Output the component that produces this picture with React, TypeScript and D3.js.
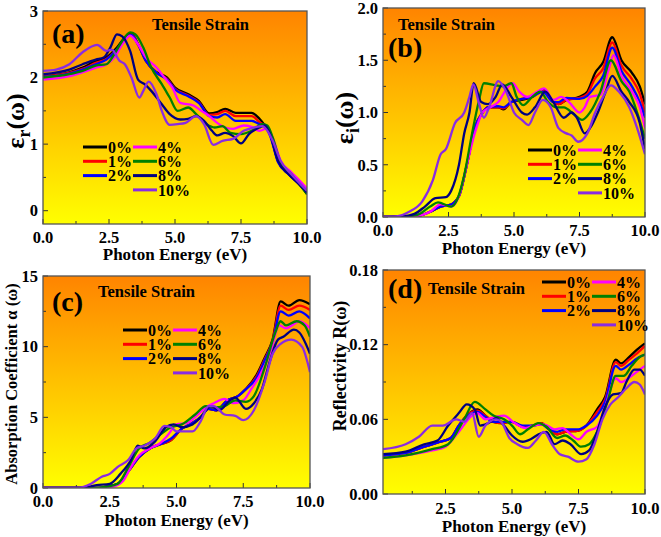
import React from "react";
import * as d3 from "d3";

type Pt = [number, number];

const strainLabels = ["0%", "1%", "2%", "4%", "6%", "8%", "10%"];
const strainColors = ["#000000", "#ff0000", "#0000ff", "#ff00ff", "#008000", "#000080", "#8a2be2"];

const xTicksFull = [0, 2.5, 5, 7.5, 10];
const xTicksD = [2.5, 5, 7.5, 10];
const xMinor = [1.25, 3.75, 6.25, 8.75];

// Panel (a) real part of dielectric function
const a0: Pt[] = [[0,2.02],[1,2.08],[1.5,2.15],[2,2.25],[2.4,2.3],[2.8,2.45],[3.1,2.6],[3.35,2.66],[3.6,2.5],[3.9,2.25],[4.3,2.08],[4.7,2.0],[5.0,1.85],[5.5,1.75],[5.9,1.65],[6.3,1.46],[6.6,1.48],[6.9,1.53],[7.3,1.47],[7.9,1.47],[8.2,1.38],[8.4,1.28],[8.6,1.15],[8.9,0.75],[9.3,0.55],[9.7,0.4],[10,0.25]];
const a1: Pt[] = [[0,2.02],[1,2.07],[1.5,2.13],[2,2.22],[2.4,2.28],[2.8,2.42],[3.1,2.58],[3.35,2.65],[3.6,2.5],[3.9,2.25],[4.3,2.07],[4.7,1.98],[5.0,1.83],[5.5,1.73],[5.9,1.63],[6.3,1.44],[6.6,1.45],[6.9,1.5],[7.3,1.42],[7.9,1.42],[8.2,1.33],[8.4,1.27],[8.6,1.15],[8.9,0.74],[9.3,0.55],[9.7,0.4],[10,0.27]];
const a2: Pt[] = [[0,2.01],[1,2.06],[1.5,2.12],[2,2.2],[2.4,2.27],[2.8,2.42],[3.1,2.58],[3.35,2.64],[3.6,2.5],[3.9,2.25],[4.3,2.07],[4.7,1.97],[5.0,1.82],[5.5,1.72],[5.9,1.62],[6.3,1.42],[6.6,1.4],[6.9,1.45],[7.3,1.35],[7.9,1.35],[8.2,1.3],[8.4,1.27],[8.6,1.13],[8.9,0.73],[9.3,0.55],[9.7,0.4],[10,0.28]];
const a4: Pt[] = [[0,1.97],[1,2.02],[1.5,2.08],[2,2.15],[2.4,2.2],[2.7,2.3],[3.0,2.5],[3.3,2.63],[3.6,2.5],[3.9,2.3],[4.3,2.15],[4.6,2.0],[4.9,1.85],[5.2,1.62],[5.7,1.58],[6.0,1.5],[6.3,1.42],[6.6,1.32],[6.9,1.25],[7.2,1.23],[7.6,1.28],[7.9,1.26],[8.2,1.2],[8.5,1.24],[8.7,1.1],[9.0,0.75],[9.4,0.58],[9.8,0.42],[10,0.33]];
const a6: Pt[] = [[0,2.0],[1,2.05],[1.5,2.1],[2,2.18],[2.4,2.2],[2.7,2.35],[3.0,2.55],[3.3,2.68],[3.5,2.65],[3.8,2.45],[4.1,2.15],[4.5,1.9],[4.8,1.7],[5.1,1.5],[5.5,1.55],[5.8,1.45],[6.2,1.3],[6.5,1.25],[6.8,1.27],[7.1,1.17],[7.5,1.15],[7.9,1.2],[8.3,1.3],[8.5,1.28],[8.7,1.1],[9.0,0.72],[9.4,0.55],[9.8,0.35],[10,0.25]];
const a8: Pt[] = [[0,2.05],[1,2.12],[1.5,2.2],[2,2.27],[2.3,2.3],[2.55,2.45],[2.8,2.65],[3.0,2.62],[3.3,2.4],[3.6,1.97],[3.85,1.9],[4.1,1.8],[4.5,1.6],[4.8,1.45],[5.2,1.37],[5.5,1.38],[5.8,1.42],[6.1,1.35],[6.4,1.2],[6.6,1.13],[6.9,1.17],[7.2,1.12],[7.5,1.01],[7.8,1.15],[8.2,1.25],[8.4,1.28],[8.6,1.15],[8.9,0.75],[9.3,0.55],[9.7,0.4],[10,0.27]];
const a10: Pt[] = [[0,2.1],[0.5,2.12],[1,2.2],[1.5,2.38],[2.05,2.49],[2.4,2.4],[2.6,2.42],[2.9,2.25],[3.1,2.2],[3.35,2.0],[3.65,1.7],[3.8,1.8],[4.0,1.94],[4.3,1.75],[4.5,1.5],[4.8,1.29],[5.1,1.3],[5.4,1.32],[5.8,1.42],[6.1,1.3],[6.45,0.99],[6.8,1.05],[7.2,1.08],[7.6,1.2],[8.0,1.25],[8.3,1.27],[8.5,1.2],[8.7,1.05],[9.0,0.75],[9.4,0.55],[9.8,0.38],[10,0.3]];

// Panel (b) imaginary part
const b0: Pt[] = [[0,0],[1.0,0.005],[1.5,0.02],[1.8,0.05],[2.2,0.1],[2.6,0.12],[2.9,0.2],[3.2,0.5],[3.5,0.85],[3.8,1.0],[4.0,1.05],[4.4,1.05],[4.6,1.03],[4.9,1.1],[5.3,1.12],[5.7,1.15],[6.1,1.22],[6.5,1.1],[6.7,1.08],[7.0,1.12],[7.5,1.15],[7.8,1.2],[8.1,1.38],[8.4,1.48],[8.75,1.72],[9.1,1.5],[9.5,1.38],[9.8,1.25],[10,1.08]];
const b1: Pt[] = [[0,0],[1.0,0.005],[1.5,0.02],[1.8,0.05],[2.2,0.1],[2.6,0.12],[2.9,0.2],[3.2,0.5],[3.5,0.85],[3.8,1.0],[4.0,1.05],[4.4,1.05],[4.6,1.04],[4.9,1.1],[5.3,1.13],[5.7,1.15],[6.1,1.21],[6.5,1.1],[6.7,1.08],[7.0,1.12],[7.5,1.14],[7.8,1.18],[8.1,1.33],[8.4,1.42],[8.75,1.67],[9.1,1.45],[9.5,1.32],[9.8,1.18],[10,1.0]];
const b2: Pt[] = [[0,0],[1.0,0.005],[1.5,0.02],[1.8,0.05],[2.2,0.1],[2.6,0.12],[2.9,0.2],[3.2,0.5],[3.5,0.85],[3.8,1.0],[4.0,1.05],[4.4,1.06],[4.6,1.05],[4.9,1.1],[5.3,1.13],[5.7,1.15],[6.1,1.2],[6.5,1.1],[6.7,1.1],[7.0,1.14],[7.5,1.13],[7.8,1.16],[8.1,1.25],[8.4,1.35],[8.75,1.62],[9.1,1.4],[9.5,1.25],[9.8,1.1],[10,0.95]];
const b4: Pt[] = [[0,0],[1.0,0.005],[1.5,0.02],[1.8,0.05],[2.2,0.12],[2.6,0.1],[2.9,0.2],[3.2,0.5],[3.5,0.8],[3.8,1.0],[4.1,1.05],[4.4,1.1],[4.7,1.22],[4.95,1.28],[5.2,1.2],[5.5,1.15],[5.9,1.2],[6.15,1.23],[6.5,1.12],[6.8,1.15],[7.1,1.1],[7.5,1.0],[7.7,1.05],[7.9,1.15],[8.3,1.17],[8.6,1.4],[8.8,1.55],[9.1,1.35],[9.5,1.2],[9.8,1.05],[10,0.85]];
const b6: Pt[] = [[0,0],[0.8,0.005],[1.3,0.02],[1.8,0.1],[2.1,0.14],[2.6,0.1],[2.8,0.15],[3.1,0.4],[3.4,0.8],[3.65,1.1],[3.85,1.28],[4.3,1.26],[4.6,1.25],[4.9,1.28],[5.1,1.15],[5.35,1.07],[5.7,1.15],[6.0,1.2],[6.3,1.1],[6.6,1.05],[6.9,1.05],[7.3,0.98],[7.6,0.93],[7.9,1.0],[8.3,1.2],[8.7,1.5],[9.1,1.3],[9.4,1.2],[9.7,1.0],[10,0.75]];
const b8: Pt[] = [[0,0],[0.7,0.005],[1.2,0.03],[1.6,0.1],[2.0,0.18],[2.4,0.19],[2.6,0.25],[2.9,0.5],[3.1,0.8],[3.3,1.0],[3.46,1.28],[3.75,1.1],[4.0,1.08],[4.3,1.15],[4.55,1.27],[4.9,1.15],[5.3,1.0],[5.5,0.98],[5.8,1.05],[6.2,1.2],[6.5,1.1],[6.9,0.95],[7.2,1.0],[7.4,0.95],[7.7,0.8],[7.9,0.85],[8.2,1.0],[8.5,1.2],[8.75,1.35],[9.1,1.2],[9.4,1.1],[9.8,0.9],[10,0.65]];
const b10: Pt[] = [[0,0],[0.5,0.005],[1.0,0.05],[1.5,0.15],[1.9,0.35],[2.2,0.6],[2.4,0.65],[2.75,0.9],[3.1,1.0],[3.3,1.15],[3.45,1.27],[3.65,1.1],[3.85,0.95],[4.05,1.05],[4.4,1.3],[4.7,1.2],[5.0,1.0],[5.3,0.93],[5.55,0.88],[5.8,1.0],[6.1,1.12],[6.4,1.05],[6.7,0.85],[7.0,0.8],[7.2,0.78],[7.45,0.72],[7.8,0.8],[8.1,1.0],[8.4,1.15],[8.7,1.26],[9.0,1.2],[9.4,1.05],[9.7,0.85],[10,0.6]];

// Panel (c) absorption coefficient
const c0: Pt[] = [[0,0],[2.0,0],[2.4,0.1],[2.8,0.3],[3.2,1.2],[3.6,2.2],[4.0,2.8],[4.4,3.1],[4.8,3.4],[5.2,4.2],[5.5,4.5],[5.9,5.0],[6.2,5.6],[6.5,5.5],[6.9,6.2],[7.3,6.5],[7.6,7.0],[8.0,8.0],[8.3,9.2],[8.6,10.5],[8.9,13.2],[9.2,12.9],[9.6,13.3],[10,13.0]];
const c1: Pt[] = [[0,0],[2.0,0],[2.4,0.1],[2.8,0.3],[3.2,1.2],[3.6,2.2],[4.0,2.8],[4.4,3.1],[4.8,3.4],[5.2,4.2],[5.5,4.5],[5.9,5.0],[6.2,5.6],[6.5,5.5],[6.9,6.2],[7.3,6.5],[7.6,7.0],[8.0,7.9],[8.3,9.1],[8.6,10.4],[8.9,12.9],[9.2,12.6],[9.6,12.9],[10,12.6]];
const c2: Pt[] = [[0,0],[2.0,0],[2.4,0.1],[2.8,0.3],[3.2,1.2],[3.6,2.2],[4.0,2.8],[4.4,3.1],[4.8,3.5],[5.2,4.2],[5.5,4.5],[5.9,5.0],[6.2,5.6],[6.5,5.5],[6.9,6.2],[7.3,6.5],[7.6,7.0],[8.0,7.8],[8.3,9.0],[8.6,10.3],[8.9,12.5],[9.2,12.2],[9.6,12.5],[10,12.0]];
const c4: Pt[] = [[0,0],[2.0,0],[2.6,0.1],[3.0,0.5],[3.3,1.5],[3.6,2.3],[4.0,2.8],[4.4,3.2],[4.7,3.8],[5.0,4.5],[5.4,4.6],[5.8,5.2],[6.1,5.7],[6.4,6.0],[6.8,6.3],[7.1,6.0],[7.5,6.2],[7.8,7.0],[8.1,7.9],[8.5,9.5],[8.85,11.5],[9.1,11.3],[9.4,11.6],[9.6,11.8],[10,11.3]];
const c6: Pt[] = [[0,0],[1.8,0],[2.4,0.1],[2.8,0.3],[3.2,1.5],[3.6,2.8],[4.0,3.2],[4.4,3.8],[4.8,4.3],[5.2,4.5],[5.7,5.2],[6.1,5.8],[6.4,5.7],[6.8,5.8],[7.2,6.2],[7.6,6.1],[7.9,6.5],[8.3,8.5],[8.7,11.0],[8.9,11.8],[9.1,11.5],[9.5,11.8],[9.8,11.5],[10,10.7]];
const c8: Pt[] = [[0,0],[1.5,0],[2.0,0.2],[2.5,0.3],[2.9,1.0],[3.3,2.0],[3.55,3.0],[3.8,2.8],[4.2,3.3],[4.6,4.3],[4.9,4.5],[5.2,4.3],[5.6,4.5],[5.9,5.0],[6.3,5.8],[6.6,5.5],[7.0,6.2],[7.2,6.4],[7.6,5.6],[7.9,6.0],[8.2,7.0],[8.5,9.0],[8.8,10.5],[9.0,10.7],[9.4,11.2],[9.6,11.0],[10,9.5]];
const c10: Pt[] = [[0,0],[1.3,0],[1.8,0.3],[2.2,0.8],[2.5,1.0],[2.8,1.5],[3.2,2.0],[3.5,2.8],[3.8,3.0],[4.2,3.5],[4.55,4.4],[4.8,4.3],[5.0,4.0],[5.4,4.0],[5.6,4.0],[5.9,4.7],[6.2,5.8],[6.4,5.8],[6.8,5.2],[7.2,5.1],[7.5,4.8],[7.9,5.5],[8.3,7.5],[8.6,9.5],[8.9,10.2],[9.3,10.5],[9.7,10.0],[10,8.2]];

// Panel (d) reflectivity
const d0: Pt[] = [[0.15,0.031],[1,0.033],[1.7,0.038],[2.3,0.042],[2.7,0.045],[3.0,0.055],[3.4,0.065],[3.7,0.068],[4.0,0.063],[4.3,0.058],[4.6,0.057],[5.0,0.058],[5.4,0.054],[5.8,0.055],[6.1,0.057],[6.4,0.052],[6.7,0.048],[7.0,0.05],[7.5,0.051],[7.8,0.055],[8.2,0.068],[8.5,0.078],[8.9,0.108],[9.1,0.105],[9.4,0.11],[9.7,0.116],[10,0.121]];
const d1: Pt[] = [[0.15,0.031],[1,0.033],[1.7,0.038],[2.3,0.042],[2.7,0.045],[3.0,0.055],[3.4,0.065],[3.7,0.067],[4.0,0.063],[4.3,0.058],[4.6,0.057],[5.0,0.058],[5.4,0.054],[5.8,0.055],[6.1,0.057],[6.4,0.052],[6.7,0.048],[7.0,0.05],[7.5,0.051],[7.8,0.055],[8.2,0.066],[8.5,0.076],[8.9,0.106],[9.1,0.103],[9.4,0.108],[9.7,0.113],[10,0.119]];
const d2: Pt[] = [[0.15,0.031],[1,0.033],[1.7,0.038],[2.3,0.042],[2.7,0.045],[3.0,0.055],[3.4,0.064],[3.7,0.066],[4.0,0.062],[4.3,0.058],[4.6,0.058],[5.0,0.058],[5.4,0.055],[5.8,0.055],[6.1,0.056],[6.4,0.052],[6.7,0.05],[7.0,0.052],[7.5,0.052],[7.8,0.055],[8.2,0.063],[8.5,0.074],[8.9,0.103],[9.1,0.1],[9.4,0.104],[9.7,0.109],[10,0.112]];
const d4: Pt[] = [[0.15,0.029],[1,0.031],[2.0,0.035],[2.5,0.038],[3.0,0.05],[3.5,0.063],[3.7,0.065],[4.0,0.06],[4.4,0.062],[4.7,0.063],[5.1,0.057],[5.5,0.053],[5.8,0.055],[6.2,0.056],[6.6,0.052],[6.9,0.053],[7.2,0.048],[7.5,0.044],[7.8,0.05],[8.2,0.054],[8.5,0.07],[8.9,0.093],[9.1,0.09],[9.5,0.095],[9.8,0.1],[10,0.103]];
const d6: Pt[] = [[0.15,0.029],[1,0.031],[2.0,0.036],[2.6,0.04],[3.2,0.06],[3.6,0.074],[4.0,0.068],[4.3,0.063],[4.7,0.06],[5.0,0.055],[5.3,0.048],[5.6,0.052],[6.0,0.057],[6.3,0.054],[6.7,0.045],[7.0,0.047],[7.3,0.043],[7.6,0.038],[7.9,0.04],[8.2,0.05],[8.6,0.075],[8.9,0.095],[9.2,0.095],[9.5,0.103],[9.8,0.11],[10,0.112]];
const d8: Pt[] = [[0.15,0.032],[1,0.034],[1.7,0.04],[2.2,0.043],[2.6,0.055],[3.0,0.065],[3.3,0.072],[3.6,0.068],[3.8,0.055],[4.2,0.058],[4.4,0.061],[4.7,0.055],[5.0,0.047],[5.4,0.042],[5.7,0.044],[6.0,0.048],[6.3,0.05],[6.6,0.04],[6.9,0.043],[7.2,0.04],[7.6,0.032],[7.9,0.035],[8.2,0.05],[8.5,0.07],[8.8,0.08],[9.1,0.081],[9.3,0.09],[9.6,0.1],[9.8,0.1],[10,0.095]];
const d10: Pt[] = [[0.15,0.036],[1,0.04],[1.5,0.046],[2.0,0.055],[2.4,0.055],[2.9,0.06],[3.2,0.058],[3.5,0.065],[3.75,0.046],[4.0,0.055],[4.4,0.06],[4.6,0.058],[4.9,0.045],[5.2,0.04],[5.6,0.037],[5.9,0.043],[6.2,0.05],[6.5,0.04],[6.8,0.032],[7.1,0.03],[7.5,0.026],[7.8,0.028],[8.1,0.04],[8.4,0.06],[8.7,0.072],[9.0,0.078],[9.3,0.085],[9.6,0.09],[9.8,0.088],[10,0.08]];

const seriesA = [a0, a1, a2, a4, a6, a8, a10];
const seriesB = [b0, b1, b2, b4, b6, b8, b10];
const seriesC = [c0, c1, c2, c4, c6, c8, c10];
const seriesD = [d0, d1, d2, d4, d6, d8, d10];

const yTicksA = [0, 1, 2, 3];
const yMinorA = [0.5, 1.5, 2.5];
const yTicksB = [0, 0.5, 1, 1.5, 2];
const yMinorB = [0.25, 0.75, 1.25, 1.75];
const yTicksC = [0, 5, 10, 15];
const yMinorC = [2.5, 7.5, 12.5];
const yTicksD = [0, 0.06, 0.12, 0.18];
const yMinorD = [0.03, 0.09, 0.15];

const FONT = "'Liberation Serif', 'Times New Roman', serif";

type PanelProps = {
  id: string;
  x0: number; x1: number; y0: number; y1: number;
  xDomain: [number, number];
  yDomain: [number, number];
  xTicks: number[];
  yTicks: number[];
  yMinor: number[];
  yFmt: (v: number) => string;
  series: Pt[][];
  letter: string;
  letterPos: [number, number];
  tensilePos: [number, number];
  legendPos: [number, number];
  yLabel: React.ReactNode;
  yLabelPos: [number, number];
  tickBaseline: number;
  titleBaseline: number;
};

function Panel(p: PanelProps) {
  const xs = d3.scaleLinear().domain(p.xDomain).range([p.x0, p.x1]);
  const ys = d3.scaleLinear().domain(p.yDomain).range([p.y1, p.y0]);
  const line = d3
    .line<Pt>()
    .x((d) => xs(d[0]))
    .y((d) => ys(d[1]))
    .curve(d3.curveMonotoneX);
  const w = p.x1 - p.x0;
  const h = p.y1 - p.y0;
  const gid = "grad-" + p.id;
  const cid = "clip-" + p.id;
  const [lx, ly] = p.legendPos;
  const col1 = [0, 1, 2];
  const col2 = [3, 4, 5, 6];
  const rowGap = 14.3;
  const lineLen = 24;
  const colGap = 50;
  return (
    <g>
      <defs>
        <linearGradient id={gid} x1="0" y1="0" x2="0" y2="1">
          <stop offset="0%" stopColor="#ff8400" />
          <stop offset="45%" stopColor="#ffbb00" />
          <stop offset="100%" stopColor="#ffff00" />
        </linearGradient>
        <clipPath id={cid}>
          <rect x={p.x0} y={p.y0} width={w} height={h} />
        </clipPath>
      </defs>
      <rect x={p.x0} y={p.y0} width={w} height={h} fill={`url(#${gid})`} />
      {p.xTicks.map((t) => (
        <g key={"xt" + t}>
          <line x1={xs(t)} x2={xs(t)} y1={p.y1} y2={p.y1 - 5} stroke="#333" strokeWidth={1} />
          <text x={xs(t)} y={p.tickBaseline} textAnchor="middle" fontFamily={FONT} fontWeight="bold" fontSize={16.5}>
            {t.toFixed(1)}
          </text>
        </g>
      ))}
      {xMinor.map((t) => (
        <line key={"xm" + t} x1={xs(t)} x2={xs(t)} y1={p.y1} y2={p.y1 - 3} stroke="#333" strokeWidth={1} />
      ))}
      {p.yTicks.map((t) => (
        <g key={"yt" + t}>
          <line x1={p.x0} x2={p.x0 + 5} y1={ys(t)} y2={ys(t)} stroke="#333" strokeWidth={1} />
          <text x={p.x0 - 5} y={ys(t)} dy="0.35em" textAnchor="end" fontFamily={FONT} fontWeight="bold" fontSize={16.5}>
            {p.yFmt(t)}
          </text>
        </g>
      ))}
      {p.yMinor.map((t) => (
        <line key={"ym" + t} x1={p.x0} x2={p.x0 + 3} y1={ys(t)} y2={ys(t)} stroke="#333" strokeWidth={1} />
      ))}
      <g clipPath={`url(#${cid})`}>
        {p.series.map((s, i) => (
          <path key={i} d={line(s) || ""} fill="none" stroke={strainColors[i]} strokeWidth={2.3} strokeLinejoin="round" />
        ))}
      </g>
      <rect x={p.x0} y={p.y0} width={w} height={h} fill="none" stroke="#555" strokeWidth={1.3} />
      <text x={(p.x0 + p.x1) / 2} y={p.titleBaseline} textAnchor="middle" fontFamily={FONT} fontWeight="bold" fontSize={17}>
        Photon Energy (eV)
      </text>
      <text x={p.letterPos[0]} y={p.letterPos[1]} dy="0.35em" fontFamily={FONT} fontWeight="bold" fontSize={28}>
        {p.letter}
      </text>
      <text x={p.tensilePos[0]} y={p.tensilePos[1]} dy="0.35em" fontFamily={FONT} fontWeight="bold" fontSize={16.5}>
        Tensile Strain
      </text>
      {col1.map((si, r) => (
        <g key={"l" + si}>
          <line x1={lx} x2={lx + lineLen} y1={ly + r * rowGap} y2={ly + r * rowGap} stroke={strainColors[si]} strokeWidth={3} />
          <text x={lx + lineLen + 1} y={ly + r * rowGap} dy="0.35em" fontFamily={FONT} fontWeight="bold" fontSize={16}>
            {strainLabels[si]}
          </text>
        </g>
      ))}
      {col2.map((si, r) => (
        <g key={"l" + si}>
          <line x1={lx + colGap} x2={lx + colGap + lineLen} y1={ly + r * rowGap} y2={ly + r * rowGap} stroke={strainColors[si]} strokeWidth={3} />
          <text x={lx + colGap + lineLen + 1} y={ly + r * rowGap} dy="0.35em" fontFamily={FONT} fontWeight="bold" fontSize={16}>
            {strainLabels[si]}
          </text>
        </g>
      ))}
      <g transform={`translate(${p.yLabelPos[0]},${p.yLabelPos[1]}) rotate(-90)`}>{p.yLabel}</g>
    </g>
  );
}

export default function App() {
  return (
    <svg
      width={661}
      height={537}
      style={{ position: "absolute", left: 0, top: 0, background: "#fff" }}
    >
      <Panel
        id="a"
        x0={43} x1={307} y0={11} y1={224}
        xDomain={[0, 10]}
        yDomain={[-0.2, 3]}
        xTicks={xTicksFull}
        yTicks={yTicksA}
        yMinor={yMinorA}
        yFmt={(v) => String(v)}
        series={seriesA}
        letter="(a)"
        letterPos={[52, 33]}
        tensilePos={[152, 24]}
        legendPos={[83, 147]}
        yLabel={
          <text textAnchor="middle" dy="0.35em" fontFamily={FONT} fontWeight="bold" fontSize={26}>
            ε<tspan fontSize={18} dy="6">r</tspan><tspan dy="-6">(ω)</tspan>
          </text>
        }
        yLabelPos={[15, 121]}
        tickBaseline={243}
        titleBaseline={260}
      />
      <Panel
        id="b"
        x0={383} x1={645} y0={8} y1={217}
        xDomain={[0, 10]}
        yDomain={[0, 2]}
        xTicks={xTicksFull}
        yTicks={yTicksB}
        yMinor={yMinorB}
        yFmt={(v) => v.toFixed(1)}
        series={seriesB}
        letter="(b)"
        letterPos={[388, 47]}
        tensilePos={[398, 24]}
        legendPos={[528, 150]}
        yLabel={
          <text textAnchor="middle" dy="0.35em" fontFamily={FONT} fontWeight="bold" fontSize={26}>
            ε<tspan fontSize={18} dy="6">i</tspan><tspan dy="-6">(ω)</tspan>
          </text>
        }
        yLabelPos={[344, 118]}
        tickBaseline={236}
        titleBaseline={254}
      />
      <Panel
        id="c"
        x0={43} x1={310} y0={276} y1={488}
        xDomain={[0, 10]}
        yDomain={[0, 15]}
        xTicks={xTicksFull}
        yTicks={yTicksC}
        yMinor={yMinorC}
        yFmt={(v) => String(v)}
        series={seriesC}
        letter="(c)"
        letterPos={[52, 301]}
        tensilePos={[98, 291]}
        legendPos={[123, 330]}
        yLabel={
          <text textAnchor="middle" dy="0.35em" fontFamily={FONT} fontWeight="bold" fontSize={16.5}>
            Absorption Coefficient α (ω)
          </text>
        }
        yLabelPos={[11, 384]}
        tickBaseline={507}
        titleBaseline={526}
      />
      <Panel
        id="d"
        x0={383} x1={645} y0={270} y1={494}
        xDomain={[0.15, 10]}
        yDomain={[0, 0.18]}
        xTicks={xTicksD}
        yTicks={yTicksD}
        yMinor={yMinorD}
        yFmt={(v) => v.toFixed(2)}
        series={seriesD}
        letter="(d)"
        letterPos={[388, 288]}
        tensilePos={[428, 288]}
        legendPos={[542, 282]}
        yLabel={
          <text textAnchor="middle" dy="0.35em" fontFamily={FONT} fontWeight="bold" fontSize={18}>
            Reflectivity R(ω)
          </text>
        }
        yLabelPos={[340, 366]}
        tickBaseline={514}
        titleBaseline={532}
      />
    </svg>
  );
}
